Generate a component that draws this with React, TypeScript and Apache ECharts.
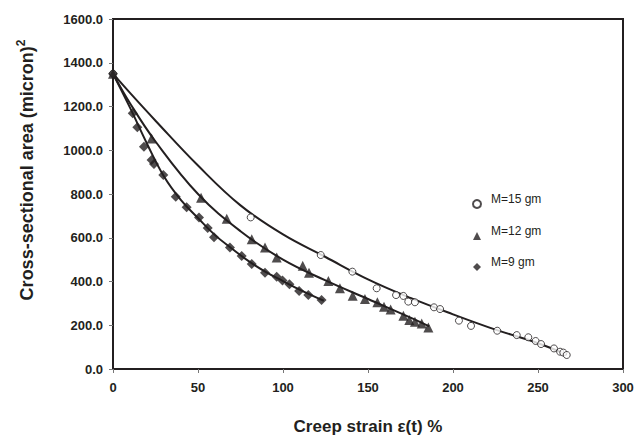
import React, { useEffect, useRef } from "react";
import * as echarts from "echarts";

// Measured points, [creep strain %, area micron^2]
const m15Points: number[][] = [
  [0, 1350], [81, 693], [122.2, 521], [140.8, 445], [155.1, 369], [166.5, 338],
  [170.8, 334], [173.7, 308], [177.6, 305], [188.8, 282], [192.4, 274],
  [203.5, 221], [210.6, 197], [226, 175], [237.5, 155], [244.3, 145],
  [248.6, 128], [251.8, 114], [259.4, 94], [263, 79], [264.9, 75], [266.9, 64],
];
const m12Points: number[][] = [
  [0, 1350], [22.7, 1054], [51.8, 783], [66.9, 687], [81.6, 593], [89.4, 555],
  [96.3, 510], [111.6, 472], [115.3, 440], [126.7, 402], [133.5, 369],
  [141, 335], [148.2, 320], [155.5, 305], [159.4, 285], [163.3, 272],
  [170.8, 244], [174.3, 224], [177.6, 216], [181.6, 208], [185.5, 190],
];
const m9Points: number[][] = [
  [0, 1350], [11.6, 1169], [14.3, 1105], [18.2, 1016], [22.7, 955], [24.1, 937],
  [29.6, 887], [36.9, 788], [43.3, 739], [50.6, 693], [55.7, 645], [59.4, 602],
  [68.8, 556], [75.7, 517], [81.6, 480], [89.4, 440], [96.3, 422], [99.7, 405],
  [103.8, 388], [109.5, 357], [114.9, 338], [122.7, 315],
];

// Fitted trend curves
const m15Fit: number[][] = [
  [0, 1350], [10, 1262], [25, 1135], [50, 930], [75, 748], [100, 615], [125, 512],
  [150, 410], [175, 325], [200, 250], [225, 180], [250, 118], [267, 66],
];
const m12Fit: number[][] = [
  [0, 1350], [10, 1215], [25, 1040], [50, 800], [75, 630], [100, 500],
  [125, 405], [150, 320], [175, 235], [186, 195],
];
const m9Fit: number[][] = [
  [0, 1350], [10, 1195], [20, 1030], [30, 880], [40, 772], [50, 690], [60, 612],
  [70, 550], [80, 492], [90, 443], [100, 402], [110, 362], [124, 312],
];

const seriesNames = ["M=15 gm", "M=12 gm", "M=9 gm"];
const xTicks = { min: 0, max: 300, interval: 50 };
const yTicks = { min: 0, max: 1600, interval: 200 };
const xTitle = "Creep strain \u03b5(t) %";
const yTitle = "Cross-sectional area (micron)";

const INK = "#231f20";
const FONT = "'Liberation Sans', Arial, sans-serif";

export default function App() {
  const ref = useRef<HTMLDivElement>(null);
  useEffect(() => {
    document.body.style.margin = "0";
    if (!ref.current) return;
    const chart = echarts.init(ref.current, undefined, { renderer: "svg" });
    const fitLine = (data: number[][], name: string) => ({
      type: "line",
      name,
      data,
      smooth: 0.4,
      showSymbol: false,
      symbol: "none",
      lineStyle: { color: INK, width: 2 },
      silent: true,
      z: 2,
    });
    chart.setOption({
      animation: false,
      backgroundColor: "#ffffff",
      grid: {
        left: 113,
        right: 13,
        top: 19,
        bottom: 67,
        show: true,
        borderColor: INK,
        borderWidth: 2,
        containLabel: false,
        outerBoundsMode: "none",
      },
      legend: {
        data: seriesNames,
        orient: "vertical",
        left: 467,
        top: 188,
        itemWidth: 8,
        itemHeight: 8,
        itemGap: 16,
        formatter: (n: string) => "{t|" + n + "}",
        textStyle: {
          fontFamily: FONT,
          fontSize: 12,
          color: INK,
          rich: {
            t: {
              fontFamily: FONT,
              fontSize: 12,
              color: INK,
              padding: [0, 0, 10, 5],
            },
          },
        },
      },
      xAxis: {
        type: "value",
        min: xTicks.min,
        max: xTicks.max,
        interval: xTicks.interval,
        name: xTitle,
        nameLocation: "middle",
        nameGap: 49,
        nameTextStyle: {
          fontFamily: FONT,
          fontSize: 17,
          fontWeight: "bold",
          color: INK,
        },
        axisLine: { show: true, lineStyle: { color: INK, width: 2 } },
        axisTick: { show: true, length: 4, lineStyle: { color: "#777" } },
        axisLabel: {
          fontFamily: FONT,
          fontSize: 13,
          fontWeight: "bold",
          color: INK,
          margin: 12,
        },
        splitLine: { show: false },
      },
      yAxis: {
        type: "value",
        min: yTicks.min,
        max: yTicks.max,
        interval: yTicks.interval,
        axisLine: { show: true, lineStyle: { color: INK, width: 2 } },
        axisTick: { show: true, length: 4, lineStyle: { color: "#777" } },
        axisLabel: {
          fontFamily: FONT,
          fontSize: 13,
          fontWeight: "bold",
          color: INK,
          margin: 10,
          formatter: (v: number) => v.toFixed(1),
        },
        splitLine: { show: false },
      },
      graphic: [
        {
          type: "text",
          x: 27,
          y: 170,
          rotation: Math.PI / 2,
          style: {
            text: "{a|" + yTitle + "}{b|2}",
            align: "center",
            verticalAlign: "middle",
            rich: {
              a: {
                fontFamily: FONT,
                fontSize: 18,
                fontWeight: "bold",
                fill: INK,
                color: INK,
              },
              b: {
                fontFamily: FONT,
                fontSize: 12,
                fontWeight: "bold",
                fill: INK,
                color: INK,
                padding: [0, 0, 12, 0],
              },
            },
          },
        },
      ],
      series: [
        fitLine(m15Fit, "fit15"),
        fitLine(m12Fit, "fit12"),
        fitLine(m9Fit, "fit9"),
        {
          type: "scatter",
          name: seriesNames[0],
          data: m15Points,
          symbol: "circle",
          symbolSize: 7,
          itemStyle: { color: "#ffffff", borderColor: INK, borderWidth: 1 },
          z: 3,
        },
        {
          type: "scatter",
          name: seriesNames[1],
          data: m12Points,
          symbol: "triangle",
          symbolSize: 10,
          itemStyle: { color: INK },
          z: 3,
        },
        {
          type: "scatter",
          name: seriesNames[2],
          data: m9Points,
          symbol: "diamond",
          symbolSize: 10,
          itemStyle: { color: INK },
          z: 3,
        },
      ],
    });
    return () => chart.dispose();
  }, []);
  return <div ref={ref} style={{ width: 636, height: 436 }} />;
}
